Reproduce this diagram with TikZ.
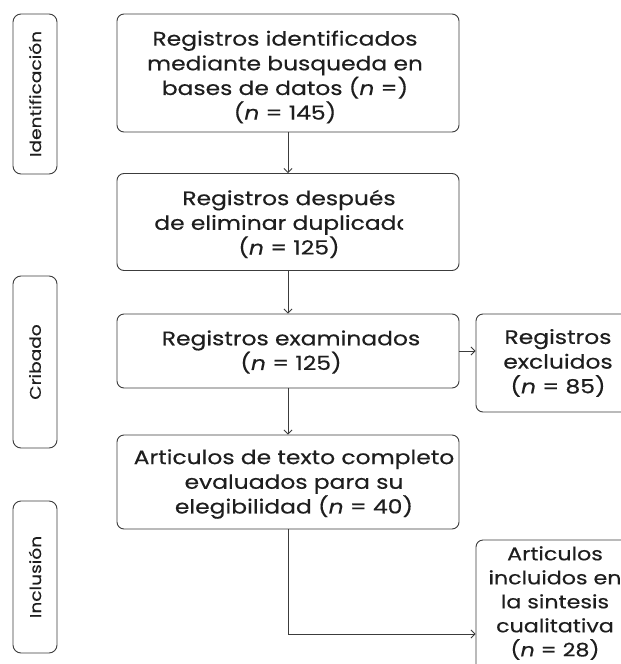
\documentclass[tikz,border=0pt]{standalone}
\usepackage{fontspec}
\setmainfont{Poppins}[FakeStretch=1.2, FakeBold=0.4]
\usetikzlibrary{arrows.meta,positioning}
\definecolor{linegray}{HTML}{3C3C3C}
\definecolor{inkgray}{HTML}{1E1E1E}
\tikzset{
  stage/.style={draw=linegray, line width=0.9pt, rounded corners=7pt, minimum width=342pt},
  sidestage/.style={draw=linegray, line width=0.9pt, rounded corners=7pt, minimum width=164pt,
    text=inkgray, align=center, font=\fontsize{19.5}{24.7}\selectfont},
  stagetext/.style={text=inkgray, align=center, inner sep=0pt, font=\fontsize{19.5}{24.7}\selectfont},
  phase/.style={draw=linegray, line width=0.9pt, rounded corners=8pt, rotate=90, minimum height=44pt,
    text=inkgray, font=\fontsize{15.5}{18}\selectfont},
  flow/.style={draw=linegray, line width=0.8pt, -{Straight Barb[length=4pt,width=8pt]}},
}
\begin{document}
\begin{tikzpicture}[x=1pt, y=-1pt]
  \useasboundingbox (0,0) rectangle (621,664);
  \clip (0,0) rectangle (621,664);
  \fill[white] (0,0) rectangle (621,664);

  % fases
  \node[phase, minimum width=160pt] (fident) at (35,94) {Identificación};
  \node[phase, minimum width=172pt] (fcrib) at (35,362) {Cribado};
  \node[phase, minimum width=152pt] (fincl) at (35,577) {Inclusión};

  % cajas
  \node[stage, minimum height=118pt] (regs) at (288,73) {};
  \node[stage, minimum height=97pt] (dupl) at (288,222) {};
  \node[stage, minimum height=74pt] (exam) at (288,351) {};
  \node[stage, minimum height=94pt] (elig) at (288,482) {};
  \node[sidestage, minimum height=98pt] (excl) at (558,363) {Registros\\excluidos\\(\textit{n} = 85)};
  \node[stage, minimum width=164pt, minimum height=140pt] (incl) at (558,610) {};
  \node[stagetext, font=\fontsize{18.5}{24}\selectfont] (tincl) at (555,603)
    {Articulos\\incluidos en\\la sintesis\\cualitativa\\(\textit{n} = 28)};

  % textos
  \begin{scope}
    \clip (117,14) rectangle (421,133);
    \node[stagetext] (tregs) at (285,77) {Registros identificados\\mediante busqueda en\\bases de datos (\textit{n} =)\\(\textit{n} = 145)};
  \end{scope}
  \begin{scope}
    \clip (117,174) rectangle (403,271);
    \node[stagetext] (tdupl) at (289,224) {Registros después\\de eliminar duplicados\\(\textit{n} = 125)};
  \end{scope}
  \node[stagetext] (texam) at (291,352) {Registros examinados\\(\textit{n} = 125)};
  \begin{scope}
    \clip (117,435) rectangle (459,529);
    \node[stagetext] (telig) at (294,484) {Articulos de texto completo\\evaluados para su\\elegibilidad (\textit{n} = 40)};
  \end{scope}

  % flechas
  \coordinate (knee) at (288,634);
  \draw[flow] (regs.south) -- (dupl.north);
  \draw[flow] (dupl.south) -- (exam.north);
  \draw[flow] (exam.east) -- (exam.east -| excl.west);
  \draw[flow] (exam.south) -- (elig.north);
  \draw[flow] (elig.south) |- (knee -| incl.west);
\end{tikzpicture}
\end{document}
